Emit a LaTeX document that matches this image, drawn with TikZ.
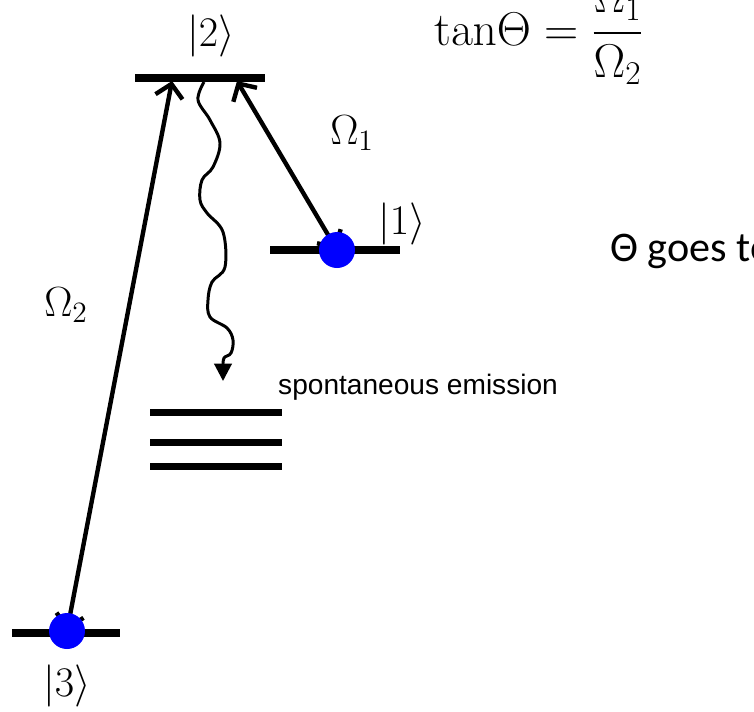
\RequirePackage{fix-cm}
\documentclass[tikz,border=0pt]{standalone}
\usepackage{amsmath}
\usepackage[no-math]{fontspec}
\setmainfont{Carlito}
\newfontfamily\arialfont{Liberation Sans}
\usetikzlibrary{arrows.meta,positioning}
\tikzset{
    level/.style={rectangle, fill=black, inner sep=0pt, minimum height=0.16cm, minimum width=2.6cm},
    pop/.style={circle, fill=blue, inner sep=0pt, minimum size=0.72cm},
    laser/.style={{Straight Barb[length=2.6mm,width=5.5mm]}-{Straight Barb[length=2.6mm,width=5.5mm]}, line width=2.5pt},
    lbl/.style={font=\fontsize{24}{28}\selectfont, inner sep=1pt}
}
\begin{document}
\begin{tikzpicture}[x=0.02cm, y=-0.02cm]
    \useasboundingbox (0,0) rectangle (754,711);
    \clip (0,0) rectangle (754,711);

    % Levels
    \node[level] (lv2) at (200,78) {};
    \node[level] (lv1) at (335,250) {};
    \node[level, minimum width=2.16cm] (lv3) at (66,633) {};
    \node[level, minimum width=2.64cm, minimum height=0.14cm] (m1) at (216,412) {};
    \node[level, minimum width=2.64cm, minimum height=0.14cm] (m2) at (216,442) {};
    \node[level, minimum width=2.64cm, minimum height=0.14cm] (m3) at (216,466) {};

    % Populations
    \coordinate (top3) at (172,81);
    \coordinate (top1) at (237,81);
    \coordinate (p1) at (337,250);
    \coordinate (p3) at (67,631);

    % Couplings
    \draw[laser] (p3) -- (top3);
    \draw[laser] (p1) -- (top1);
    \node[pop] (d1) at (p1) {};
    \node[pop] (d3) at (p3) {};

    % Decay
    \draw[line width=1.7pt, -{Triangle[length=3.5mm,width=3.5mm]}]
        plot[smooth, tension=0.6] coordinates {(204,82) (198,100) (210,120) (220,143) (213,167)
        (202,180) (200,200) (207,213) (223,232) (225,267) (212,282) (208,300) (210,317)
        (227,328) (233,340) (231,353) (224,358) (223,367)} -- (223,381);

    % Labels
    \node[lbl] (k2) at (211,36) {$|2\rangle$};
    \node[lbl, anchor=west] (k1) at (376,224) {$|1\rangle$};
    \node[lbl] (k3) at (67,686) {$|3\rangle$};
    \node[lbl] (o1) at (352,133) {$\Omega_1$};
    \node[lbl] (o2) at (66,305) {$\Omega_2$};
    \node[lbl, anchor=base west, font=\fontsize{27}{31}\selectfont] (eq) at (432,45) {$\mathrm{tan}\Theta = \dfrac{\Omega_1}{\Omega_2}$};
    \node[anchor=base west, inner sep=0pt, font=\fontsize{24}{28}\selectfont] (goes) at (610,261) {Θ goes to};
    \node[anchor=west, font=\arialfont\fontsize{16}{19}\selectfont] (se) at (272,387) {spontaneous emission};
\end{tikzpicture}
\end{document}
